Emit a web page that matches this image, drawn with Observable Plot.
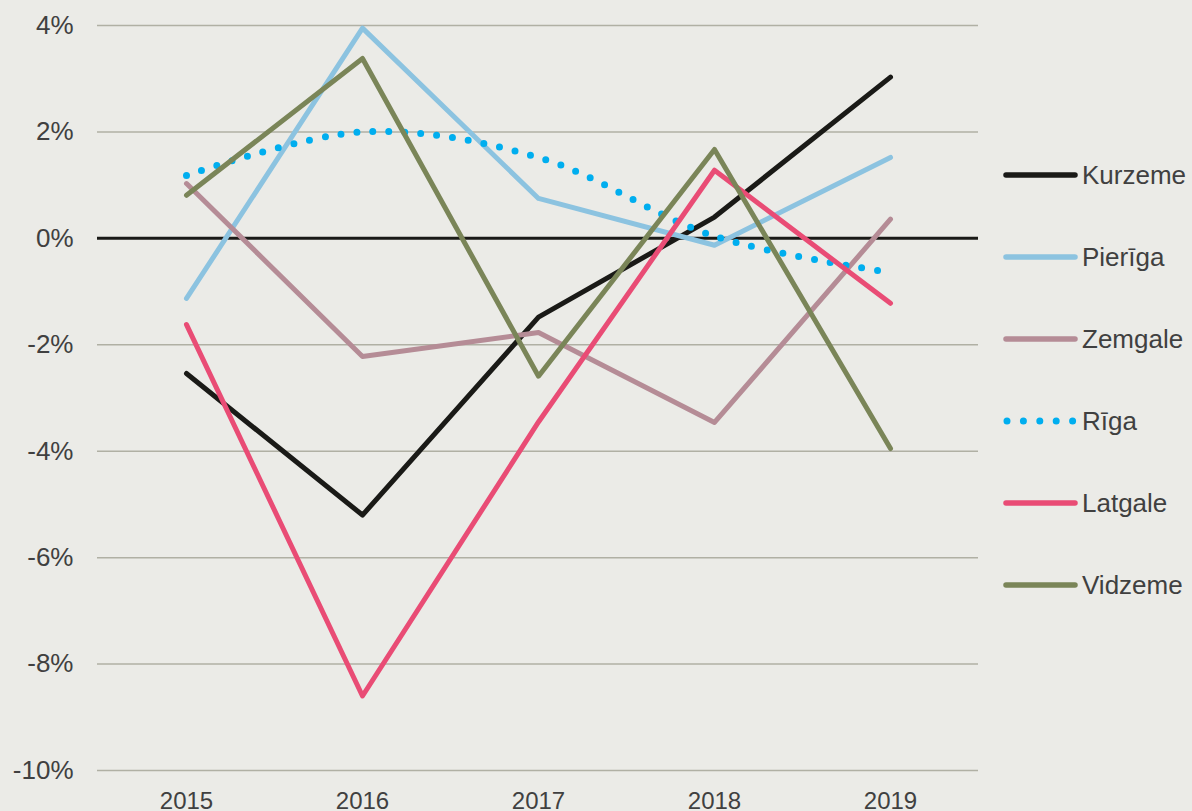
<!DOCTYPE html>
<html>
<head>
<meta charset="utf-8">
<script src="https://cdn.jsdelivr.net/npm/d3@7"></script>
<script src="https://cdn.jsdelivr.net/npm/@observablehq/plot@0.6"></script>
<style>
  html, body { margin: 0; padding: 0; background: #EBEBE7; }
  #wrap { position: relative; width: 1192px; height: 811px; font-family: "Liberation Sans", Arial, sans-serif; }
  #chart { position: absolute; left: 0; top: 0; }
  #legend { position: absolute; left: 1003px; top: 0; }
  .item { position: absolute; left: 0; height: 30px; display: flex; align-items: center; white-space: nowrap; font-size: 26px; color: #404040; }
  .item svg { margin-right: 4px; }
</style>
</head>
<body>
<div id="wrap"><div id="chart"></div><div id="legend"></div></div>
<script>
const years = ["2015", "2016", "2017", "2018", "2019"];
const names = ["Kurzeme", "Pierīga", "Zemgale", "Rīga", "Latgale", "Vidzeme"];
const kurzeme = [-2.54, -5.2, -1.48, 0.4, 3.03];
const pieriga = [-1.13, 3.95, 0.75, -0.13, 1.52];
const zemgale = [1.03, -2.22, -1.77, -3.46, 0.36];
const riga    = [1.18, 2.0, 1.52, 0.04, -0.64];
const latgale = [-1.62, -8.6, -3.45, 1.28, -1.22];
const vidzeme = [0.81, 3.38, -2.59, 1.67, -3.95];
const colors = ["#1a1a17", "#8cc3e0", "#b58c96", "#00aeef", "#e94c75", "#7a8558"];
const yTicks = [-10, -8, -6, -4, -2, 0, 2, 4];

const allValues = [kurzeme, pieriga, zemgale, riga, latgale, vidzeme];
const series = names.map((name, i) => ({
  name, color: colors[i], dotted: name === "Rīga",
  data: years.map((y, j) => ({year: y, value: allValues[i][j]}))
}));

const lineMarks = series.map(s => s.dotted
  ? Plot.line(s.data, {x: "year", y: "value", stroke: s.color, strokeWidth: 7,
      curve: "catmull-rom", strokeDasharray: "0 16", strokeLinecap: "round"})
  : Plot.line(s.data, {x: "year", y: "value", stroke: s.color, strokeWidth: 5,
      strokeLinecap: "round", strokeLinejoin: "round"}));

const chart = Plot.plot({
  width: 990, height: 811,
  marginLeft: 97, marginRight: 12, marginTop: 25, marginBottom: 41,
  style: {background: "transparent", fontFamily: "Liberation Sans, Arial, sans-serif", fontSize: "24px", color: "#404040"},
  x: {type: "point", domain: years, padding: 0.5, label: null},
  y: {domain: [-10, 4], label: null},
  marks: [
    Plot.ruleY(yTicks, {stroke: "#b0b0a4", strokeWidth: 1.5}),
    Plot.ruleY([0], {stroke: "#1a1a17", strokeWidth: 3}),
    Plot.axisY({ticks: yTicks, tickFormat: d => d + "%", tickSize: 0, tickPadding: 24, label: null, fill: "#404040", fontSize: 26}),
    Plot.axisX({tickSize: 0, tickPadding: 21, label: null, fill: "#404040", fontSize: 24}),
    ...lineMarks
  ]
});
document.getElementById("chart").appendChild(chart);

const legend = document.getElementById("legend");
const legendY = [175, 257, 339, 421, 503, 585];
series.forEach((s, i) => {
  const div = document.createElement("div");
  div.className = "item";
  div.style.top = (legendY[i] - 15) + "px";
  const ns = "http://www.w3.org/2000/svg";
  const svg = document.createElementNS(ns, "svg");
  svg.setAttribute("width", 75); svg.setAttribute("height", 12);
  const ln = document.createElementNS(ns, "line");
  ln.setAttribute("y1", 6); ln.setAttribute("y2", 6);
  ln.setAttribute("stroke", s.color);
  ln.setAttribute("stroke-linecap", "round");
  if (s.dotted) {
    ln.setAttribute("x1", 4); ln.setAttribute("x2", 71);
    ln.setAttribute("stroke-width", 7); ln.setAttribute("stroke-dasharray", "0 16.4");
  } else {
    ln.setAttribute("x1", 3); ln.setAttribute("x2", 72);
    ln.setAttribute("stroke-width", 5.5);
  }
  svg.appendChild(ln);
  div.appendChild(svg);
  const t = document.createElement("span");
  t.textContent = s.name;
  div.appendChild(t);
  legend.appendChild(div);
});
</script>
</body>
</html>
